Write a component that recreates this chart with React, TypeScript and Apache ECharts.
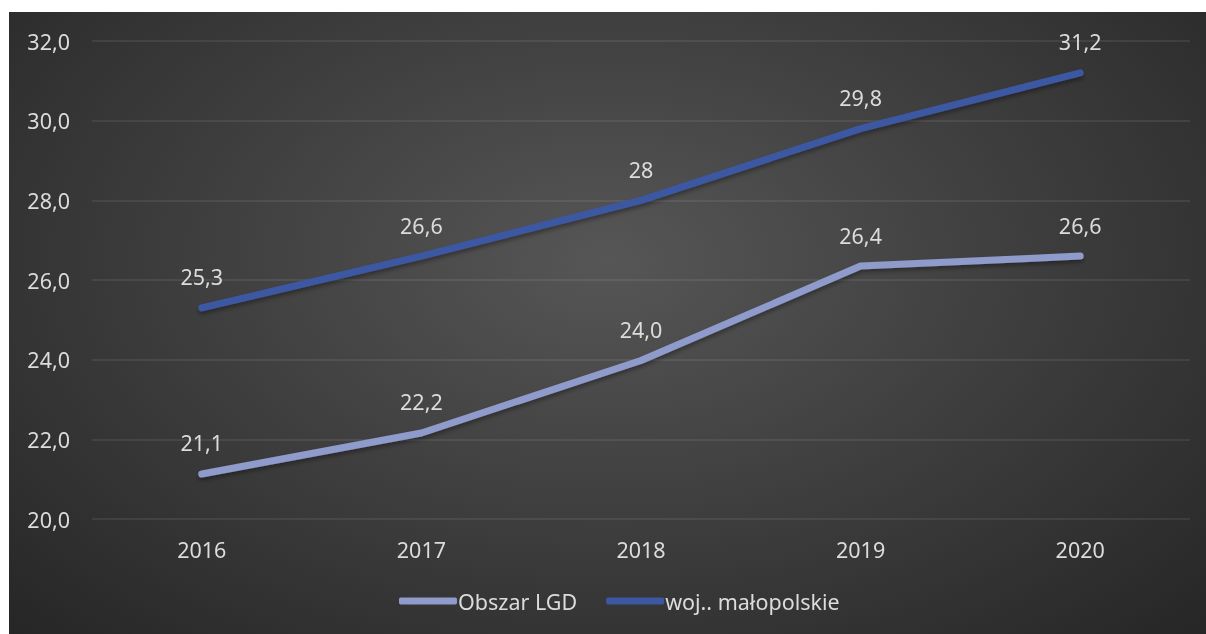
import React, { useEffect, useRef } from "react";
import * as echarts from "echarts";

const categories = ["2016", "2017", "2018", "2019", "2020"];
const lgdValues = [21.13, 22.16, 23.98, 26.35, 26.6];
const lgdLabels = ["21,1", "22,2", "24,0", "26,4", "26,6"];
const wojValues = [25.3, 26.6, 28.0, 29.8, 31.2];
const wojLabels = ["25,3", "26,6", "28", "29,8", "31,2"];
const seriesNames = ["Obszar LGD", "woj.. małopolskie"];

const FONT = "Noto Sans";
const TXT = "#dcdcdc";
const FS = 21.5;

export default function App() {
  const ref = useRef<HTMLDivElement>(null);
  useEffect(() => {
    const chart = echarts.init(ref.current!, null, { renderer: "svg" });
    const lineSeries = (name: string, data: number[], labels: string[], color: string) => ({
      name,
      type: "line",
      data,
      symbol: "circle",
      symbolSize: 0,
      showSymbol: true,
      lineStyle: {
        color,
        width: 7,
        cap: "round",
        join: "round",
        shadowColor: "rgba(0,0,0,0.35)",
        shadowBlur: 4,
        shadowOffsetY: 3,
      },
      itemStyle: { color },
      label: {
        show: true,
        position: "top",
        distance: 20,
        color: TXT,
        fontFamily: FONT,
        fontSize: FS,
        formatter: (p: any) => labels[p.dataIndex],
      },
    });
    chart.setOption({
      animation: false,
      backgroundColor: "transparent",
      grid: { left: 83, right: 16, top: 29, bottom: 115 },
      legend: {
        bottom: 17,
        left: 385,
        itemWidth: 58,
        itemHeight: 7,
        itemGap: 29,
        textStyle: { color: TXT, fontFamily: FONT, fontSize: FS, padding: [0, 0, 0, -4] },
        data: seriesNames.map((n) => ({ name: n, icon: "roundRect" })),
      },
      xAxis: {
        type: "category",
        data: categories,
        boundaryGap: true,
        axisLine: { show: false },
        axisTick: { show: false },
        axisLabel: { color: TXT, fontFamily: FONT, fontSize: FS, margin: 19 },
      },
      yAxis: {
        type: "value",
        min: 20,
        max: 32,
        interval: 2,
        axisLine: { show: false },
        axisTick: { show: false },
        axisLabel: {
          color: TXT,
          fontFamily: FONT,
          fontSize: FS,
          margin: 22,
          formatter: (v: number) => v.toFixed(1).replace(".", ","),
        },
        splitLine: { lineStyle: { color: "rgba(255,255,255,0.1)", width: 1.5 } },
      },
      series: [
        lineSeries(seriesNames[0], lgdValues, lgdLabels, "#8e9bcb"),
        lineSeries(seriesNames[1], wojValues, wojLabels, "#3d58a3"),
      ],
    });
    return () => chart.dispose();
  }, []);
  return (
    <div
      style={{
        position: "fixed",
        left: 9,
        top: 12,
        width: 1197,
        height: 622,
        background: "radial-gradient(ellipse at 50% 40%, #565656 0%, #404040 45%, #262626 100%)",
      }}
    >
      <div ref={ref} style={{ width: 1197, height: 622 }} />
    </div>
  );
}
